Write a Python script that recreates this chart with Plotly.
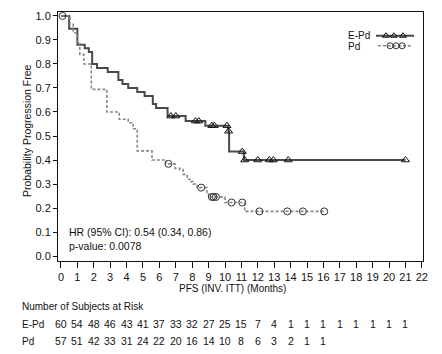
import plotly.graph_objects as go

# ---- data ----
months = list(range(0, 23))
ep_t = [0, 0.5, 1.0, 1.45, 1.7, 1.9, 2.2, 2.85, 3.5, 3.75, 4.1, 4.65, 5.1, 5.6, 5.8, 6.5, 7.6, 8.8, 10.2, 10.25, 11.15, 21.0]
ep_s = [1.0, 0.947, 0.88, 0.865, 0.85, 0.80, 0.783, 0.767, 0.733, 0.717, 0.70, 0.683, 0.667, 0.633, 0.617, 0.583, 0.562, 0.543, 0.52, 0.435, 0.40, 0.40]
ep_c = [6.7, 7.0, 8.2, 8.4, 9.2, 9.35, 10.12, 10.22, 11.05, 11.2, 12.0, 12.7, 12.95, 13.85, 21.0]

pd_t = [0, 0.55, 0.75, 1.0, 1.15, 1.4, 1.85, 2.8, 3.55, 4.1, 4.4, 4.65, 5.55, 6.4, 6.95, 7.25, 7.45, 7.7, 7.85, 8.05, 8.3, 8.9, 9.0, 10.0, 11.2, 16.05]
pd_s = [1.0, 0.965, 0.93, 0.885, 0.84, 0.80, 0.694, 0.60, 0.57, 0.555, 0.53, 0.438, 0.40, 0.384, 0.365, 0.36, 0.34, 0.32, 0.31, 0.30, 0.285, 0.265, 0.246, 0.223, 0.186, 0.186]
pd_c = [0.1, 6.55, 8.55, 9.2, 9.3, 9.45, 10.4, 11.05, 12.1, 13.8, 14.75, 16.05]

risk_ep = [60, 54, 48, 46, 43, 41, 37, 33, 32, 27, 25, 15, 7, 4, 1, 1, 1, 1, 1, 1, 1, 1]
risk_pd = [57, 51, 42, 33, 31, 24, 22, 20, 16, 14, 10, 8, 6, 3, 2, 1, 1]

y_ticks = [0.0, 0.1, 0.2, 0.3, 0.4, 0.5, 0.6, 0.7, 0.8, 0.9, 1.0]

# legend sample positions (in legend mini-axis units)
leg_line_x = [0.0, 1.0]
leg_ep_mk = [0.26, 0.47, 0.71]
leg_pd_mk = [0.37, 0.53, 0.69]

FONT = "Liberation Sans Narrow, Arial Narrow, Liberation Sans, Arial, sans-serif"
EP_COL = "#4a4a4a"
PD_COL = "#888888"
NUM = 11
TXT = 10


def surv_at(ts, ss, t):
    v = ss[0]
    for ti, si in zip(ts, ss):
        if ti <= t:
            v = si
    return v


fig = go.Figure()
fig.add_trace(go.Scatter(x=ep_t, y=ep_s, mode="lines", line=dict(shape="hv", color=EP_COL, width=2),
                         showlegend=False, hoverinfo="skip"))
fig.add_trace(go.Scatter(x=pd_t, y=pd_s, mode="lines",
                         line=dict(shape="hv", color=PD_COL, width=1.6, dash="3px,2px"),
                         showlegend=False, hoverinfo="skip"))
fig.add_trace(go.Scatter(x=ep_c, y=[surv_at(ep_t, ep_s, t) for t in ep_c], mode="markers",
                         marker=dict(symbol="triangle-up-open", size=7, color="#111111", line=dict(width=1)),
                         showlegend=False, hoverinfo="skip"))
fig.add_trace(go.Scatter(x=pd_c, y=[surv_at(pd_t, pd_s, t) for t in pd_c], mode="markers",
                         marker=dict(symbol="circle-open", size=7, color="#333333", line=dict(width=1)),
                         showlegend=False, hoverinfo="skip"))

# legend samples on a small overlay axis
fig.add_trace(go.Scatter(x=leg_line_x, y=[0.73, 0.73], mode="lines", line=dict(color=EP_COL, width=2),
                         xaxis="x2", yaxis="y2", showlegend=False, hoverinfo="skip"))
fig.add_trace(go.Scatter(x=leg_ep_mk, y=[0.73] * 3, mode="markers",
                         marker=dict(symbol="triangle-up-open", size=6, color="#111111", line=dict(width=1)),
                         xaxis="x2", yaxis="y2", showlegend=False, hoverinfo="skip"))
fig.add_trace(go.Scatter(x=[0.05, 0.92], y=[0.27, 0.27], mode="lines",
                         line=dict(color=PD_COL, width=1.6, dash="3px,2px"),
                         xaxis="x2", yaxis="y2", showlegend=False, hoverinfo="skip"))
fig.add_trace(go.Scatter(x=leg_pd_mk, y=[0.27] * 3, mode="markers",
                         marker=dict(symbol="circle-open", size=6, color="#333333", line=dict(width=1)),
                         xaxis="x2", yaxis="y2", showlegend=False, hoverinfo="skip"))

L, R, T, B = 58, 19, 10, 93
W, H = 442, 354
pw, ph = W - L - R, H - T - B


def px(xp):
    return (xp - L) / pw


def py(yp):
    return (H - B - yp) / ph


def txt(text, x, y, anchor="left", size=TXT, **kw):
    return dict(text=text, x=px(x), y=py(y), xref="paper", yref="paper", xanchor=anchor,
                yanchor="middle", showarrow=False, font=dict(size=size), **kw)


ann = [
    txt("E-Pd", 346, 34),
    txt("Pd", 346, 45),
    txt("HR (95% CI): 0.54 (0.34, 0.86)", 67, 232, size=10.5),
    txt("p-value: 0.0078", 67, 246, size=10.5),
    txt("PFS (INV. ITT) (Months)", 232, 289, anchor="center"),
    txt("Probability Progression Free", 27, 130, anchor="center", size=10.5, textangle=-90),
    txt("Number of Subjects at Risk", 20, 307),
    txt("E-Pd", 20, 325),
    txt("Pd", 20, 342),
]
for m, v in zip(months, risk_ep):
    ann.append(dict(text=str(v), x=m, y=py(325), xref="x", yref="paper", xanchor="center",
                    yanchor="middle", showarrow=False, font=dict(size=10.5)))
for m, v in zip(months, risk_pd):
    ann.append(dict(text=str(v), x=m, y=py(342), xref="x", yref="paper", xanchor="center",
                    yanchor="middle", showarrow=False, font=dict(size=10.5)))

fig.update_layout(
    width=W, height=H, margin=dict(l=L, r=R, t=T, b=B, pad=0),
    paper_bgcolor="white", plot_bgcolor="white",
    font=dict(family=FONT, size=TXT, color="#111111"),
    annotations=ann,
    xaxis=dict(range=[-0.18, 22.07], tickvals=months, ticktext=[str(m) for m in months],
               ticks="outside", ticklen=6, tickwidth=1, tickcolor="#111111",
               showline=True, linecolor="#111111", linewidth=1, mirror=True,
               showgrid=False, zeroline=False, fixedrange=True, tickfont=dict(size=NUM)),
    yaxis=dict(range=[-0.0207, 1.0165], tickvals=y_ticks, ticktext=["%.1f" % v for v in y_ticks],
               ticks="outside", ticklen=4, tickwidth=1, tickcolor="#111111",
               showline=True, linecolor="#111111", linewidth=1, mirror=True,
               showgrid=False, zeroline=False, fixedrange=True, tickfont=dict(size=NUM)),
    xaxis2=dict(domain=[px(376), px(414)], range=[0, 1], visible=False, anchor="y2"),
    yaxis2=dict(domain=[py(50), py(28)], range=[0, 1], visible=False, anchor="x2"),
)

fig.write_html("out.html")
